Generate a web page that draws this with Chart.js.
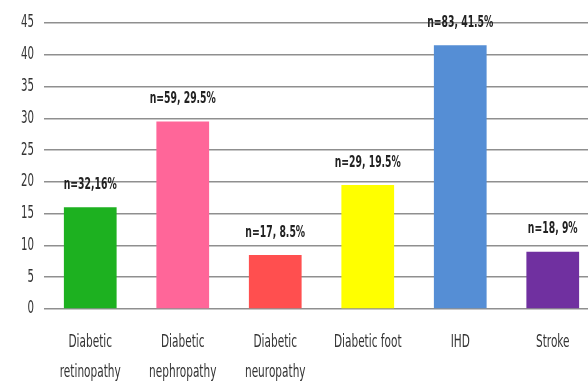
<!DOCTYPE html>
<html>
<head>
<meta charset="utf-8">
<script src="https://cdn.jsdelivr.net/npm/chart.js@4/dist/chart.umd.min.js"></script>
<style>
  html, body { margin: 0; padding: 0; background: #fff; overflow: hidden; }
  #wrap { position: absolute; left: 0; top: 0; width: 610px; height: 382px; }
</style>
</head>
<body>
<div id="wrap"><canvas id="chart"></canvas></div>
<script>
// Complications and their counts / shares
const categories = [
  ['Diabetic', 'retinopathy'],
  ['Diabetic', 'nephropathy'],
  ['Diabetic', 'neuropathy'],
  'Diabetic foot',
  'IHD',
  'Stroke'
];
const values = [16, 29.5, 8.5, 19.5, 41.5, 9];
const valueLabels = ['n=32,16%', 'n=59, 29.5%', 'n=17, 8.5%', 'n=29, 19.5%', 'n=83, 41.5%', 'n=18, 9%'];
const barColors = ['#1db120', '#ff6699', '#ff4f4f', '#ffff00', '#558ed5', '#7030a0'];
const yTicks = [0, 5, 10, 15, 20, 25, 30, 35, 40, 45];

const FONT = "'DejaVu Sans', sans-serif";

// Draw text squeezed horizontally to give a narrow face
function narrowText(ctx, text, x, y, sx) {
  ctx.save();
  ctx.translate(x, y);
  ctx.scale(sx, 1);
  ctx.fillText(text, 0, 0);
  ctx.restore();
}

// Axis labels and the text above each bar, in the narrow face
const narrowLabels = {
  id: 'narrowLabels',
  afterDraw(chart) {
    const ctx = chart.ctx;
    const xs = chart.scales.x;
    const ys = chart.scales.y;
    ctx.save();
    ctx.fillStyle = '#333';
    ctx.textBaseline = 'middle';

    // y axis tick labels
    ctx.font = '17px ' + FONT;
    ctx.textAlign = 'right';
    ys.ticks.forEach((t, i) => {
      narrowText(ctx, String(t.value), ys.right - 10, ys.getPixelForTick(i), 0.6);
    });

    // category labels
    ctx.textAlign = 'center';
    ctx.font = '17px ' + FONT;
    categories.forEach((c, i) => {
      const lines = Array.isArray(c) ? c : [c];
      const x = xs.getPixelForTick(i);
      lines.forEach((line, j) => {
        narrowText(ctx, line, x, xs.top + 34 + j * 30, 0.62);
      });
    });

    // value labels above bars
    ctx.fillStyle = '#222';
    ctx.font = 'bold 16px ' + FONT;
    const meta = chart.getDatasetMeta(0);
    meta.data.forEach((bar, i) => {
      narrowText(ctx, valueLabels[i], bar.x, bar.y - 22.5, 0.58);
    });
    ctx.restore();
  }
};

new Chart(document.getElementById('chart'), {
  type: 'bar',
  data: {
    labels: categories,
    datasets: [{
      data: values,
      backgroundColor: barColors,
      borderWidth: 0,
      barPercentage: 0.57,
      categoryPercentage: 1
    }]
  },
  options: {
    responsive: true,
    maintainAspectRatio: false,
    animation: false,
    layout: { padding: { top: 23, right: 11, left: 0, bottom: 0 } },
    plugins: { legend: { display: false }, tooltip: { enabled: false } },
    scales: {
      x: {
        grid: { display: false, drawTicks: false },
        border: { display: false },
        ticks: { display: false },
        afterFit(scale) { scale.height = 73; }
      },
      y: {
        min: 0,
        max: 45,
        afterBuildTicks(scale) { scale.ticks = yTicks.map(v => ({ value: v })); },
        grid: { color: '#8f8f8f', lineWidth: 1.6, drawTicks: false },
        border: { display: false },
        ticks: { display: false },
        afterFit(scale) { scale.width = 44; }
      }
    }
  },
  plugins: [narrowLabels]
});
</script>
</body>
</html>
